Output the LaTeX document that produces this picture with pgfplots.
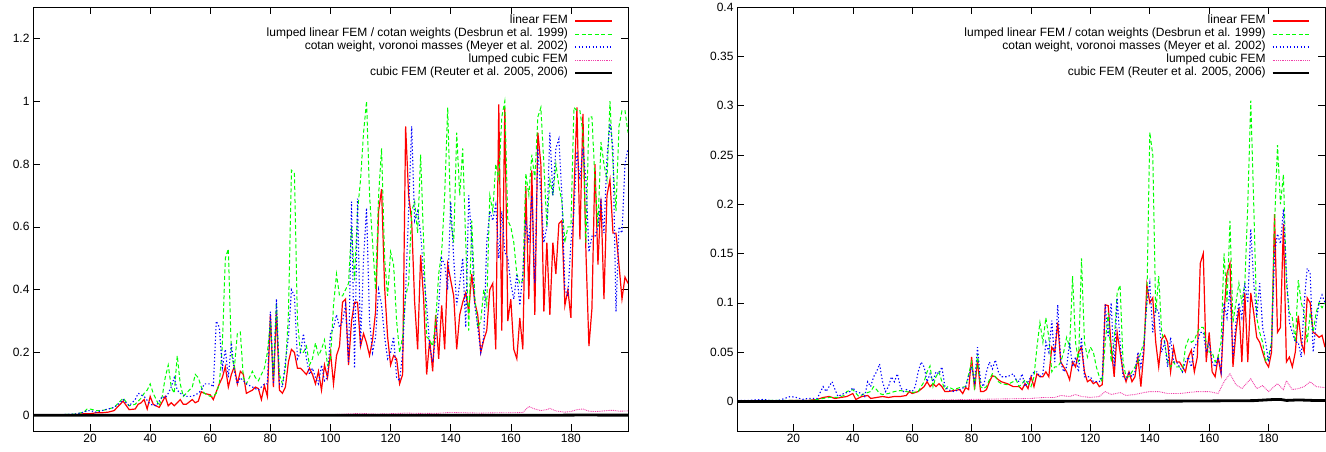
\documentclass[border=0pt]{standalone}
\usepackage{fontspec}
\setmainfont{Liberation Sans}
\usepackage{pgfplots}
\pgfplotsset{compat=1.18}
\tikzset{
  linfem/.style={color=red, line width=1.2pt},
  lumped/.style={color=green, line width=1.0pt, dash pattern=on 4pt off 2.5pt},
  meyer/.style={color=blue, line width=1.1pt, dash pattern=on 1.3pt off 2.2pt},
  lcubic/.style={color=magenta!75, line width=0.9pt, dash pattern=on 0.9pt off 0.9pt},
  cubic/.style={color=black, line width=2.8pt},
  legtext/.style={anchor=mid east, inner sep=0pt, font=\fontsize{12}{12}\selectfont},
}
\newcommand\gplegend{%
  \foreach \st/\yy/\tx in {linfem/0.967/{linear FEM},
      lumped/0.9363/{lumped linear FEM / cotan weights (Desbrun et al. 1999)},
      meyer/0.9057/{cotan weight, voronoi masses (Meyer et al. 2002)},
      lcubic/0.875/{lumped cubic FEM},
      cubic/0.8443/{cubic FEM (Reuter et al. 2005, 2006)}}{%
    \edef\temp{\noexpand\draw[\st] (axis description cs:0.911,\yy) -- (axis description cs:0.973,\yy);
      \noexpand\node[legtext] at (axis description cs:0.8995,\yy) {\unexpanded\expandafter{\tx}};}%
    \temp
  }%
}
\pgfplotsset{
  gp/.style={
    scale only axis,
    height=424pt,
    xmin=1, xmax=199,
    xtick={20,40,...,180},
    tick align=inside,
    major tick length=7pt,
    tick style={black, line width=0.6pt},
    axis line style={line width=0.8pt},
    ticklabel style={font=\fontsize{12}{12}\selectfont},
    /pgf/number format/assume math mode=true,
    yticklabel style={/pgf/number format/fixed, /pgf/number format/precision=2},
  },
}
\begin{document}
\begin{tikzpicture}[x=1pt,y=1pt]
\useasboundingbox (0,0) rectangle (1326,452);
% ---------------- left panel ----------------
\begin{axis}[gp, at={(33pt,21pt)}, anchor=south west, width=595pt,
  ymin=-0.05, ymax=1.3, ytick={0,0.2,...,1.2}]
\addplot[linfem] coordinates {(1,0)(5,0)(10,0.001)(15,0.002)(18,0.005)(20,0.005)(22,0.008)(24,0.008)(26,0.01)(28,0.015)(30,0.035)(31,0.045)(33,0.018)(35,0.02)(36,0.035)(37,0.04)(38,0.05)(39,0.02)(40,0.06)(41,0.035)(43,0.025)(45,0.06)(46,0.03)(47,0.04)(48,0.03)(50,0.05)(51,0.035)(52,0.035)(54,0.05)(55,0.04)(56,0.045)(57,0.075)(58,0.07)(60,0.065)(61,0.05)(62,0.075)(63,0.1)(64,0.12)(65,0.155)(66,0.09)(67,0.13)(68,0.155)(69,0.1)(70,0.14)(71,0.13)(72,0.07)(73,0.075)(74,0.08)(75,0.09)(76,0.085)(77,0.05)(78,0.095)(79,0.06)(80,0.32)(81,0.09)(82,0.33)(83,0.08)(84,0.07)(85,0.09)(86,0.17)(87,0.21)(88,0.2)(89,0.15)(90,0.15)(91,0.14)(92,0.13)(93,0.15)(94,0.13)(95,0.1)(96,0.14)(97,0.08)(98,0.16)(99,0.12)(100,0.2)(101,0.1)(102,0.19)(103,0.22)(104,0.36)(105,0.37)(106,0.16)(107,0.3)(108,0.36)(109,0.36)(110,0.22)(111,0.26)(112,0.23)(113,0.19)(114,0.24)(115,0.33)(116,0.65)(117,0.72)(118,0.41)(119,0.25)(120,0.16)(121,0.19)(122,0.18)(123,0.1)(124,0.13)(125,0.92)(126,0.7)(127,0.62)(128,0.36)(129,0.21)(130,0.51)(131,0.37)(132,0.13)(133,0.24)(134,0.14)(135,0.32)(136,0.18)(137,0.35)(138,0.21)(139,0.48)(140,0.43)(141,0.38)(142,0.21)(143,0.32)(144,0.36)(145,0.39)(146,0.33)(147,0.45)(148,0.36)(149,0.32)(150,0.2)(151,0.24)(152,0.27)(153,0.4)(154,0.42)(155,0.21)(156,0.99)(157,0.27)(158,0.98)(159,0.3)(160,0.37)(161,0.21)(162,0.18)(163,0.31)(164,0.21)(165,0.73)(166,0.37)(167,0.78)(168,0.32)(169,0.9)(170,0.8)(171,0.33)(172,0.55)(173,0.32)(174,0.55)(175,0.45)(176,0.61)(177,0.62)(178,0.35)(179,0.4)(180,0.31)(181,0.7)(182,0.98)(183,0.56)(184,0.96)(185,0.52)(186,0.22)(187,0.34)(188,0.8)(189,0.48)(190,0.69)(191,0.37)(192,0.7)(193,0.75)(194,0.58)(195,0.58)(196,0.48)(197,0.37)(198,0.44)(199,0.42)};
\addplot[lumped] coordinates {(1,0)(5,0)(10,0.002)(15,0.004)(18,0.01)(19,0.02)(20,0.02)(22,0.015)(24,0.015)(26,0.02)(28,0.025)(30,0.045)(31,0.055)(33,0.03)(35,0.035)(37,0.055)(38,0.07)(39,0.08)(40,0.1)(41,0.07)(43,0.03)(44,0.06)(45,0.12)(46,0.16)(47,0.09)(48,0.07)(49,0.19)(50,0.1)(51,0.06)(52,0.07)(53,0.08)(54,0.09)(55,0.13)(56,0.12)(57,0.09)(58,0.07)(60,0.06)(61,0.06)(62,0.07)(63,0.1)(64,0.22)(65,0.5)(66,0.53)(67,0.2)(68,0.15)(69,0.26)(70,0.265)(71,0.12)(72,0.1)(73,0.12)(74,0.14)(75,0.12)(76,0.11)(77,0.13)(78,0.15)(79,0.2)(80,0.3)(81,0.12)(82,0.36)(83,0.13)(84,0.1)(85,0.15)(86,0.32)(87,0.78)(88,0.77)(89,0.3)(90,0.2)(91,0.2)(92,0.22)(93,0.16)(94,0.18)(95,0.23)(96,0.19)(97,0.21)(98,0.24)(99,0.16)(100,0.18)(101,0.35)(102,0.45)(103,0.38)(104,0.38)(105,0.4)(106,0.42)(107,0.6)(108,0.43)(109,0.65)(110,0.75)(111,0.9)(112,1.0)(113,0.7)(114,0.55)(115,0.4)(116,0.7)(117,0.85)(118,0.5)(119,0.38)(120,0.52)(121,0.48)(122,0.3)(123,0.2)(124,0.25)(125,0.38)(126,0.42)(127,0.65)(128,0.68)(129,0.58)(130,0.83)(131,0.55)(132,0.25)(133,0.24)(134,0.22)(135,0.3)(136,0.45)(137,0.52)(138,0.7)(139,0.98)(140,0.62)(141,0.55)(142,0.9)(143,0.7)(144,0.85)(145,0.55)(146,0.27)(147,0.62)(148,0.38)(149,0.28)(150,0.3)(151,0.4)(152,0.35)(153,0.7)(154,0.65)(155,0.8)(156,0.75)(157,0.95)(158,1.0)(159,0.62)(160,0.6)(161,0.55)(162,0.45)(163,0.42)(164,0.43)(165,0.77)(166,0.7)(167,0.83)(168,0.75)(169,0.95)(170,0.98)(171,0.8)(172,0.6)(173,0.75)(174,0.7)(175,0.8)(176,0.73)(177,0.68)(178,0.55)(179,0.6)(180,0.6)(181,0.98)(182,0.97)(183,0.97)(184,0.9)(185,0.55)(186,0.95)(187,0.95)(188,0.75)(189,0.6)(190,0.87)(191,0.8)(192,0.75)(193,1.0)(194,0.8)(195,0.65)(196,0.92)(197,0.97)(198,0.97)(199,0.9)};
\addplot[meyer] coordinates {(1,0)(5,0)(10,0.002)(15,0.004)(18,0.01)(19,0.015)(20,0.015)(22,0.01)(24,0.015)(26,0.02)(28,0.025)(30,0.04)(31,0.05)(33,0.03)(35,0.05)(36,0.07)(37,0.065)(38,0.06)(40,0.035)(42,0.03)(44,0.06)(45,0.055)(46,0.07)(47,0.09)(48,0.12)(49,0.08)(50,0.07)(52,0.06)(54,0.06)(56,0.07)(57,0.08)(58,0.1)(60,0.1)(61,0.09)(62,0.3)(63,0.28)(64,0.15)(65,0.21)(66,0.12)(67,0.23)(68,0.14)(69,0.1)(70,0.12)(72,0.1)(74,0.09)(76,0.08)(78,0.1)(79,0.1)(80,0.33)(81,0.1)(82,0.37)(83,0.1)(84,0.09)(86,0.25)(87,0.4)(88,0.38)(89,0.18)(90,0.2)(91,0.26)(92,0.18)(93,0.13)(94,0.15)(95,0.12)(96,0.1)(97,0.16)(98,0.11)(99,0.12)(100,0.26)(101,0.28)(102,0.32)(103,0.28)(104,0.3)(105,0.35)(106,0.17)(107,0.68)(108,0.15)(109,0.69)(110,0.22)(111,0.5)(112,0.66)(113,0.3)(114,0.2)(115,0.25)(116,0.4)(117,0.35)(118,0.25)(119,0.18)(120,0.2)(121,0.25)(122,0.12)(123,0.11)(124,0.2)(125,0.4)(126,0.65)(127,0.92)(128,0.62)(129,0.65)(130,0.58)(131,0.45)(132,0.35)(133,0.22)(134,0.17)(135,0.25)(136,0.35)(137,0.5)(138,0.48)(139,0.4)(140,0.68)(141,0.5)(142,0.35)(143,0.42)(144,0.5)(145,0.28)(146,0.7)(147,0.55)(148,0.35)(149,0.28)(150,0.2)(151,0.25)(152,0.55)(153,0.65)(154,0.62)(155,0.67)(156,0.5)(157,0.65)(158,0.52)(159,0.5)(160,0.42)(161,0.37)(162,0.45)(163,0.35)(164,0.45)(165,0.62)(166,0.55)(167,0.7)(168,0.42)(169,0.85)(170,0.7)(171,0.55)(172,0.6)(173,0.9)(174,0.7)(175,0.85)(176,0.88)(177,0.7)(178,0.4)(179,0.38)(180,0.55)(181,0.65)(182,0.84)(183,0.75)(184,0.85)(185,0.75)(186,0.52)(187,0.57)(188,0.57)(189,0.6)(190,0.68)(191,0.58)(192,0.82)(193,0.93)(194,0.85)(195,0.33)(196,0.6)(197,0.58)(198,0.8)(199,0.85)};
\addplot[lcubic] coordinates {(1,0)(60,0.001)(100,0.002)(105,0.004)(110,0.006)(115,0.004)(120,0.005)(125,0.007)(130,0.006)(135,0.006)(140,0.009)(145,0.008)(150,0.007)(155,0.008)(160,0.008)(164,0.009)(166,0.028)(168,0.02)(170,0.015)(172,0.018)(173,0.022)(175,0.014)(178,0.01)(180,0.012)(182,0.018)(184,0.02)(186,0.013)(188,0.012)(190,0.013)(192,0.015)(194,0.016)(196,0.013)(199,0.014)};
\addplot[cubic] coordinates {(1,0)(50,0)(100,0)(150,0)(180,0.0005)(185,0.001)(190,0.0005)(199,0.0005)};
\gplegend
\end{axis}
% ---------------- right panel ----------------
\begin{axis}[gp, at={(737pt,21pt)}, anchor=south west, width=588pt,
  ymin=-0.03, ymax=0.4, ytick={0,0.05,...,0.4}]
\addplot[linfem] coordinates {(1,0)(10,0)(20,0.001)(25,0.001)(28,0.002)(30,0.004)(32,0.005)(34,0.003)(36,0.004)(38,0.005)(40,0.008)(41,0.002)(43,0.005)(45,0.006)(46,0.003)(48,0.004)(50,0.005)(52,0.004)(54,0.005)(56,0.005)(58,0.006)(59,0.01)(60,0.008)(62,0.01)(64,0.015)(65,0.02)(66,0.015)(67,0.018)(68,0.015)(69,0.018)(70,0.015)(71,0.01)(72,0.01)(74,0.011)(76,0.012)(77,0.008)(78,0.014)(79,0.012)(80,0.045)(81,0.012)(82,0.042)(83,0.01)(84,0.01)(85,0.012)(86,0.02)(87,0.026)(88,0.025)(89,0.022)(90,0.02)(92,0.018)(94,0.015)(96,0.015)(97,0.012)(98,0.018)(99,0.013)(100,0.025)(101,0.015)(102,0.028)(103,0.025)(104,0.025)(105,0.03)(106,0.025)(107,0.055)(108,0.05)(109,0.08)(110,0.04)(111,0.035)(112,0.03)(113,0.022)(114,0.04)(115,0.035)(116,0.05)(117,0.055)(118,0.03)(119,0.02)(120,0.022)(121,0.018)(122,0.02)(123,0.015)(124,0.017)(125,0.098)(126,0.097)(127,0.055)(128,0.025)(129,0.07)(130,0.05)(131,0.03)(132,0.02)(133,0.03)(134,0.02)(135,0.025)(136,0.045)(137,0.015)(138,0.05)(139,0.118)(140,0.1)(141,0.105)(142,0.06)(143,0.035)(144,0.063)(145,0.067)(146,0.06)(147,0.03)(148,0.055)(149,0.04)(150,0.04)(151,0.035)(152,0.03)(153,0.045)(154,0.052)(155,0.03)(156,0.045)(157,0.14)(158,0.15)(159,0.04)(160,0.07)(161,0.03)(162,0.025)(163,0.045)(164,0.028)(165,0.09)(166,0.13)(167,0.14)(168,0.035)(169,0.07)(170,0.095)(171,0.04)(172,0.11)(173,0.04)(174,0.11)(175,0.09)(176,0.065)(177,0.06)(178,0.05)(179,0.04)(180,0.035)(181,0.05)(182,0.19)(183,0.07)(184,0.075)(185,0.18)(186,0.04)(187,0.045)(188,0.035)(189,0.05)(190,0.087)(191,0.06)(192,0.05)(193,0.105)(194,0.1)(195,0.07)(196,0.068)(197,0.065)(198,0.067)(199,0.055)};
\addplot[lumped] coordinates {(1,0)(10,0.001)(20,0.001)(25,0.001)(28,0.002)(30,0.003)(32,0.004)(35,0.004)(37,0.006)(38,0.01)(40,0.012)(42,0.005)(44,0.008)(46,0.01)(47,0.015)(48,0.012)(49,0.008)(50,0.007)(52,0.008)(54,0.01)(56,0.011)(58,0.01)(60,0.009)(62,0.01)(64,0.02)(65,0.03)(66,0.036)(67,0.015)(68,0.025)(69,0.03)(70,0.02)(71,0.012)(72,0.015)(74,0.012)(76,0.014)(78,0.015)(80,0.04)(81,0.015)(82,0.048)(83,0.015)(84,0.013)(85,0.015)(86,0.022)(87,0.028)(88,0.025)(89,0.02)(90,0.018)(92,0.017)(94,0.02)(95,0.022)(96,0.015)(97,0.018)(98,0.022)(99,0.018)(100,0.015)(101,0.025)(102,0.055)(103,0.08)(104,0.06)(105,0.085)(106,0.065)(107,0.03)(108,0.035)(109,0.035)(110,0.04)(111,0.05)(112,0.065)(113,0.055)(114,0.127)(115,0.06)(116,0.04)(117,0.145)(118,0.06)(119,0.045)(120,0.055)(121,0.05)(122,0.035)(123,0.025)(124,0.02)(125,0.06)(126,0.09)(127,0.04)(128,0.06)(129,0.11)(130,0.118)(131,0.04)(132,0.025)(133,0.025)(134,0.03)(135,0.035)(136,0.04)(137,0.05)(138,0.06)(139,0.1)(140,0.273)(141,0.25)(142,0.09)(143,0.127)(144,0.07)(145,0.06)(146,0.04)(147,0.035)(148,0.04)(149,0.035)(150,0.035)(151,0.03)(152,0.055)(153,0.063)(154,0.06)(155,0.062)(156,0.07)(157,0.075)(158,0.075)(159,0.06)(160,0.05)(161,0.05)(162,0.04)(163,0.045)(164,0.06)(165,0.15)(166,0.1)(167,0.183)(168,0.08)(169,0.1)(170,0.12)(171,0.1)(172,0.12)(173,0.2)(174,0.305)(175,0.2)(176,0.085)(177,0.07)(178,0.06)(179,0.04)(180,0.045)(181,0.06)(182,0.18)(183,0.26)(184,0.2)(185,0.23)(186,0.12)(187,0.09)(188,0.085)(189,0.06)(190,0.123)(191,0.1)(192,0.09)(193,0.06)(194,0.09)(195,0.07)(196,0.09)(197,0.1)(198,0.095)(199,0.1)};
\addplot[meyer] coordinates {(1,0.001)(5,0.001)(10,0.002)(12,0.001)(15,0.001)(19,0.005)(21,0.004)(23,0.002)(25,0.003)(28,0.003)(30,0.015)(31,0.01)(33,0.02)(34,0.012)(35,0.005)(37,0.008)(39,0.01)(40,0.014)(41,0.01)(43,0.008)(44,0.005)(45,0.02)(46,0.015)(47,0.025)(48,0.03)(49,0.038)(50,0.02)(51,0.01)(52,0.015)(53,0.025)(54,0.02)(55,0.028)(56,0.015)(57,0.01)(58,0.012)(60,0.01)(61,0.015)(62,0.03)(63,0.04)(64,0.035)(65,0.02)(66,0.028)(67,0.02)(68,0.03)(69,0.028)(70,0.035)(71,0.015)(72,0.012)(74,0.01)(76,0.012)(78,0.015)(80,0.035)(81,0.02)(82,0.055)(83,0.02)(84,0.015)(85,0.03)(86,0.04)(87,0.033)(88,0.042)(89,0.03)(90,0.025)(92,0.025)(94,0.028)(95,0.022)(96,0.02)(97,0.028)(98,0.015)(99,0.02)(100,0.025)(101,0.03)(102,0.03)(103,0.025)(104,0.028)(105,0.06)(106,0.05)(107,0.082)(108,0.04)(109,0.098)(110,0.04)(111,0.03)(112,0.035)(113,0.06)(114,0.035)(115,0.045)(116,0.03)(117,0.065)(118,0.025)(119,0.025)(120,0.025)(121,0.02)(122,0.02)(123,0.02)(124,0.025)(125,0.098)(126,0.065)(127,0.1)(128,0.035)(129,0.105)(130,0.06)(131,0.025)(132,0.022)(133,0.03)(134,0.025)(135,0.03)(136,0.05)(137,0.035)(138,0.055)(139,0.1)(140,0.12)(141,0.07)(142,0.095)(143,0.09)(144,0.05)(145,0.06)(146,0.035)(147,0.065)(148,0.04)(149,0.04)(150,0.035)(151,0.03)(152,0.04)(153,0.045)(154,0.035)(155,0.055)(156,0.06)(157,0.07)(158,0.07)(159,0.05)(160,0.06)(161,0.04)(162,0.035)(163,0.045)(164,0.03)(165,0.1)(166,0.085)(167,0.113)(168,0.045)(169,0.08)(170,0.1)(171,0.085)(172,0.12)(173,0.1)(174,0.175)(175,0.12)(176,0.085)(177,0.12)(178,0.075)(179,0.06)(180,0.04)(181,0.06)(182,0.15)(183,0.17)(184,0.16)(185,0.195)(186,0.13)(187,0.08)(188,0.07)(189,0.06)(190,0.06)(191,0.045)(192,0.1)(193,0.135)(194,0.13)(195,0.05)(196,0.08)(197,0.1)(198,0.108)(199,0.1)};
\addplot[lcubic] coordinates {(1,0)(40,0)(60,0.001)(80,0.002)(100,0.003)(104,0.004)(108,0.004)(110,0.006)(113,0.005)(115,0.007)(117,0.005)(120,0.004)(123,0.005)(125,0.01)(127,0.007)(130,0.009)(132,0.006)(135,0.007)(138,0.009)(140,0.01)(143,0.01)(146,0.008)(150,0.008)(153,0.009)(156,0.01)(160,0.01)(163,0.008)(165,0.02)(167,0.028)(169,0.017)(171,0.013)(174,0.023)(176,0.013)(178,0.016)(180,0.01)(183,0.018)(185,0.012)(186,0.021)(188,0.012)(190,0.013)(192,0.015)(194,0.02)(196,0.015)(199,0.014)};
\addplot[cubic] coordinates {(1,0)(50,0)(100,0)(150,0.0003)(175,0.0008)(182,0.002)(184,0.002)(186,0.001)(190,0.0015)(195,0.001)(199,0.001)};
\gplegend
\end{axis}
\end{tikzpicture}
\end{document}
